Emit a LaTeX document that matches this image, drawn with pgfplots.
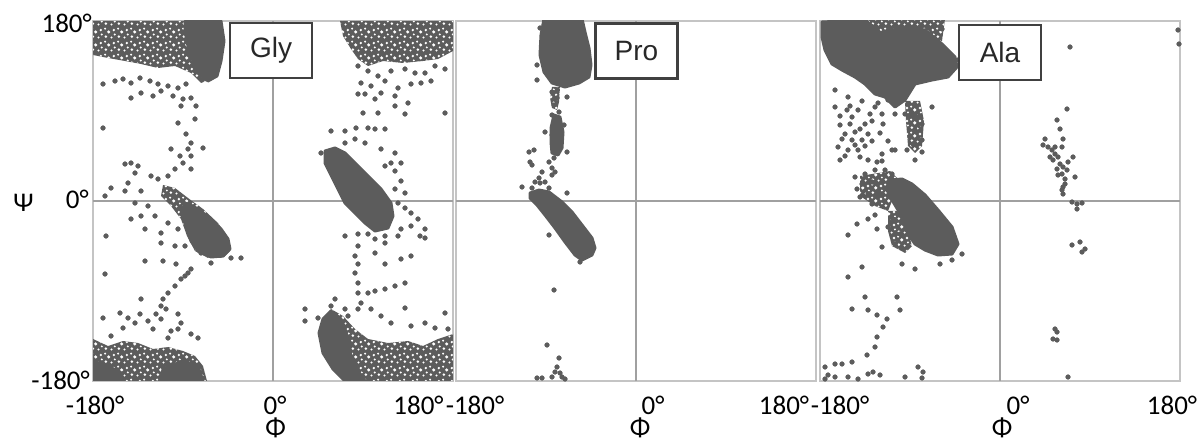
\documentclass[border=0pt]{standalone}
\usepackage{fontspec}
\setmainfont{Carlito}
\newfontfamily\arial{Liberation Sans}
\usepackage{pgfplots}
\pgfplotsset{compat=1.18}
\usetikzlibrary{patterns}

\definecolor{dotgray}{RGB}{92,92,92}
\definecolor{framegray}{RGB}{196,196,196}
\definecolor{midgray}{RGB}{160,160,160}
\definecolor{boxgray}{RGB}{64,64,64}
\definecolor{labelgray}{RGB}{40,40,40}

% white gaps laid over the loosely populated regions
\pgfdeclarepatternformonly{speckle}{\pgfqpoint{0bp}{0bp}}{\pgfqpoint{13bp}{13bp}}{\pgfqpoint{13bp}{13bp}}{
  \pgfpathcircle{\pgfqpoint{2bp}{2.5bp}}{1.5bp}
  \pgfpathcircle{\pgfqpoint{8bp}{1.5bp}}{1.2bp}
  \pgfpathcircle{\pgfqpoint{5bp}{7.5bp}}{1.8bp}
  \pgfpathcircle{\pgfqpoint{10.5bp}{9.5bp}}{1.4bp}
  \pgfpathcircle{\pgfqpoint{11.5bp}{4.8bp}}{1.1bp}
  \pgfpathcircle{\pgfqpoint{1.2bp}{11bp}}{1.2bp}
  \pgfusepath{fill}
}

\pgfplotsset{
  rama/.style={
    width=360bp, height=360bp, scale only axis,
    xmin=-180, xmax=180, ymin=-180, ymax=180,
    axis line style={draw=framegray, line width=2bp},
    xtick=\empty, ytick=\empty,
    extra x ticks={0}, extra y ticks={0},
    extra x tick labels={}, extra y tick labels={},
    extra tick style={grid=major, major tick length=0pt,
      major grid style={draw=midgray, line width=1.6bp}},
    clip mode=individual,
    anchor=south west,
  },
  dense/.style={fill=dotgray, draw=dotgray, line width=3bp, line join=round, mark=none},
  loose/.style={fill=dotgray, draw=none, mark=none,
    postaction={pattern=speckle, pattern color=white}},
  dots/.style={only marks, mark=*, mark size=2.4bp,
    mark options={draw=dotgray, fill=dotgray, line width=0.3bp}},
}
\tikzset{
  tag/.style={draw=boxgray, line width=2.5bp, fill=white, minimum width=82bp,
    minimum height=55bp, inner sep=0pt, text=labelgray,
    font=\arial\fontsize{28bp}{30bp}\selectfont},
}

\begin{document}
\begin{tikzpicture}
\useasboundingbox (0,0) rectangle (1202bp,442bp);

% ---------------- Gly ----------------
\begin{axis}[rama, at={(93bp,61bp)}]
\addplot[loose] coordinates {(-180,180) (-52,180) (-50,160) (-55,135) (-62,122) (-72,118) (-82,128) (-98,135) (-115,133) (-132,137) (-148,140) (-165,143) (-180,146)} -- cycle;
\addplot[dense] coordinates {(-88,180) (-52,180) (-49,160) (-52,140) (-56,125) (-65,120) (-74,128) (-80,140) (-85,155) (-88,170)} -- cycle;
\addplot[loose] coordinates {(67,180) (180,180) (180,150) (165,142) (150,140) (130,138) (110,140) (95,135) (85,142) (78,152) (70,165)} -- cycle;
\addplot[loose] coordinates {(-180,-138) (-165,-145) (-150,-140) (-135,-142) (-120,-148) (-105,-146) (-90,-150) (-78,-155) (-70,-165) (-66,-180) (-180,-180)} -- cycle;
\addplot[dense] coordinates {(-180,-160) (-165,-165) (-152,-172) (-150,-180) (-180,-180)} -- cycle;
\addplot[dense] coordinates {(-110,-168) (-90,-160) (-75,-165) (-70,-180) (-112,-180)} -- cycle;
\addplot[loose] coordinates {(58,-108) (70,-115) (82,-128) (95,-138) (115,-142) (135,-140) (150,-145) (165,-138) (180,-133) (180,-180) (72,-180) (60,-168) (50,-152) (46,-132) (50,-118)} -- cycle;
\addplot[dense] coordinates {(58,-110) (68,-118) (74,-135) (78,-155) (85,-170) (92,-180) (72,-180) (60,-168) (50,-152) (46,-132) (50,-118)} -- cycle;
\addplot[loose] coordinates {(-110,16) (-98,13) (-85,3) (-70,-8) (-55,-22) (-45,-38) (-43,-50) (-50,-57) (-65,-57) (-78,-50) (-86,-35) (-92,-18) (-102,-5) (-112,5)} -- cycle;
\addplot[dense] coordinates {(-88,-2) (-75,-8) (-62,-18) (-52,-28) (-45,-38) (-43,-48) (-50,-55) (-62,-56) (-75,-50) (-82,-40) (-87,-25) (-92,-12)} -- cycle;
\addplot[dense] coordinates {(52,50) (62,53) (72,48) (82,38) (95,25) (108,12) (118,-2) (120,-15) (115,-27) (102,-30) (92,-22) (82,-12) (72,-2) (65,12) (57,28) (52,38)} -- cycle;
\addplot[dots] coordinates {
(-170,117) (-158,120) (-150,122) (-142,118) (-133,123) (-123,120) (-115,117) (-105,115) (-95,113) (-87,117)
(-142,103) (-132,108) (-120,105) (-112,110) (-100,105) (-90,102) (-82,103) (-77,95) (-92,95) (-95,78)
(-78,82) (-87,67) (-82,58) (-85,52) (-102,52) (-93,45) (-82,45) (-70,53) (-90,38) (-98,32)
(-82,32) (-105,25) (-115,22) (-122,25) (-142,38) (-135,35) (-148,37) (-138,28) (-145,18) (-162,13)
(-168,5) (-148,10) (-132,10) (-138,-2) (-125,-5) (-132,-15) (-118,-15) (-142,-18) (-105,-22) (-95,-28)
(-112,-32) (-128,-28) (-167,-35) (-112,-42) (-98,-45) (-88,-45) (-128,-60) (-110,-60) (-97,-63) (-82,-68)
(-168,-73) (-88,-75) (-72,-52) (-62,-62) (-42,-57) (-32,-57) (-170,73)
(-85,-72) (-92,-78) (-98,-85) (-105,-92) (-110,-98) (-112,-105) (-107,-108) (-117,-113) (-132,-98) (-133,-113)
(-170,-117) (-153,-112) (-145,-117) (-138,-122) (-125,-120) (-112,-118) (-95,-113) (-92,-122) (-102,-130) (-95,-128)
(-150,-127) (-162,-135) (-120,-128) (-82,-133) (-75,-137) (-105,-137)
(85,135) (95,130) (105,125) (118,130) (132,132) (142,128) (152,128) (162,135) (172,132) (88,118)
(98,115) (112,120) (125,113) (138,117) (148,118) (158,120) (85,107) (92,107) (102,102) (108,108)
(122,105) (135,98) (122,95) (132,87) (105,88) (90,88) (172,88) (58,70) (72,70) (83,73)
(95,73) (102,72) (112,72) (82,62) (92,58) (108,52) (122,48) (72,58) (48,48) (118,38)
(128,38) (112,35) (122,30) (128,20) (132,8) (122,12)
(125,-2) (132,-7) (138,-12) (145,-18) (152,-28) (138,-25) (128,-28) (125,-35) (147,-35) (152,-37)
(112,-35) (102,-38) (95,-33) (85,-33) (72,-35) (85,-45) (82,-55) (85,-63) (82,-72) (85,-82)
(85,-92) (95,-92) (102,-90) (112,-88) (122,-85) (132,-82) (102,-52) (112,-42) (112,-63) (128,-58)
(138,-55) (88,-102) (85,-108) (72,-108) (75,-115) (98,-108) (108,-115) (118,-122) (132,-107) (138,-125)
(152,-122) (162,-127) (172,-112) (175,-128) (32,-108) (32,-120) (45,-117) (58,-105) (62,-98)
};
\node[tag] at (axis cs:-2,150.5) {Gly};
\end{axis}

% ---------------- Pro ----------------
\begin{axis}[rama, at={(456bp,61bp)}]
\addplot[dense] coordinates {(-92,182) (-54,182) (-51,169) (-47,153) (-45,136) (-47,124) (-57,118) (-71,114) (-84,118) (-92,129) (-96,146) (-95,166)} -- cycle;
\addplot[loose] coordinates {(-84,114) (-76,114) (-77,99) (-79,91) (-84,93) (-86,103)} -- cycle;
\addplot[dense] coordinates {(-82,86) (-76,84) (-73,69) (-74,53) (-78,46) (-84,48) (-85,59) (-85,73)} -- cycle;
\addplot[dense] coordinates {(-106,8) (-97,11) (-87,9) (-74,-1) (-64,-11) (-54,-24) (-44,-37) (-41,-47) (-44,-54) (-54,-59) (-61,-54) (-71,-41) (-81,-27) (-91,-14) (-99,-4) (-106,3)} -- cycle;
\addplot[dots] coordinates {
(-99,136) (-99,121) (-96,173) (-69,104) (-91,69) (-72,76) (-69,49) (-107,49) (-102,51) (-106,39)
(-104,36) (-87,39) (-82,43) (-84,33) (-94,29) (-97,23) (-101,19) (-91,19) (-84,26) (-81,29)
(-114,14) (-104,13) (-96,18) (-87,13) (-87,-34) (-69,8) (-56,-61) (-82,-89) (-89,-144) (-77,-157)
(-79,-166) (-81,-171) (-76,-172) (-74,-176) (-84,-176) (-94,-177) (-99,-177) (-71,-178)
(-84,109) (-79,103) (-82,96) (-77,89) (-84,86) (-81,79) (-77,73) (-84,66) (-79,59) (-82,54)
(-76,53) (-81,48)
};
\node[tag] at (axis cs:0.5,150) {Pro};
\end{axis}

% ---------------- Ala ----------------
\begin{axis}[rama, at={(820bp,61bp)}]
\addplot[loose] coordinates {(-135,182) (-55,182) (-58,160) (-98,172) (-118,165)} -- cycle;
\addplot[dense] coordinates {(-178,179) (-135,181) (-118,167) (-98,174) (-75,171) (-58,157) (-45,144) (-43,134) (-52,124) (-68,121) (-85,117) (-95,101) (-105,94) (-115,104) (-125,107) (-135,117) (-145,124) (-158,131) (-168,137) (-175,151) (-178,164)} -- cycle;
\addplot[loose] coordinates {(-95,100) (-80,100) (-76,80) (-78,55) (-85,48) (-92,55) (-94,80)} -- cycle;
\addplot[loose] coordinates {(-140,25) (-110,30) (-100,20) (-108,0) (-112,-10) (-125,-5) (-140,5)} -- cycle;
\addplot[loose] coordinates {(-112,-10) (-100,-10) (-95,-20) (-88,-45) (-95,-52) (-108,-45) (-112,-30)} -- cycle;
\addplot[dense] coordinates {(-108,21) (-98,22) (-88,17) (-75,6) (-62,-9) (-48,-26) (-42,-43) (-48,-53) (-62,-54) (-75,-49) (-85,-43) (-92,-33) (-95,-19) (-102,-9) (-108,1) (-113,11)} -- cycle;
\addplot[dots] coordinates {
(70,154) (67,92) (57,81) (60,72) (45,62) (43,56) (63,62) (73,44) (75,24) (65,17)
(63,7) (72,-1) (77,-3) (82,-2) (77,-8) (72,-44) (80,-41) (82,-51) (85,-48) (55,-128)
(57,-131) (53,-138) (57,-139) (68,-176) (178,171) (179,157)
(48,54) (52,51) (55,47) (58,44) (53,41) (60,37) (63,34) (57,32) (62,27) (67,31)
(68,39) (50,44) (65,22) (58,26) (55,54) (62,54) (63,14) (62,11)
(-165,94) (-153,91) (-142,91) (-150,77) (-160,76) (-155,67) (-145,69) (-135,77) (-130,87) (-125,94)
(-118,87) (-117,77) (-132,67) (-138,61) (-148,61) (-162,54) (-152,51) (-142,51) (-160,41) (-132,41)
(-123,39) (-108,51) (-105,51) (-118,47) (-95,87) (-88,87) (-82,84) (-78,77) (-85,71) (-90,64)
(-87,57) (-78,61) (-93,51) (-78,49) (-85,41) (-68,94) (-108,27) (-115,31) (-125,31) (-135,27)
(-145,24) (-138,17) (-128,19) (-143,12) (-132,7) (-140,4) (-122,7) (-128,-3) (-125,-14) (-132,-18)
(-123,-28) (-143,-23) (-152,-34) (-118,-46) (-105,-43) (-100,-33) (-112,-26) (-107,-18) (-98,-63) (-85,-68)
(-60,-63) (-38,-53) (-48,-59) (-138,-66) (-152,-76) (-135,-96) (-103,-96) (-148,-108) (-132,-109) (-123,-114)
(-113,-118) (-100,-109) (-117,-126) (-123,-136) (-125,-146) (-133,-154) (-148,-161) (-158,-163) (-165,-163) (-175,-166)
(-172,-174) (-165,-176) (-152,-176) (-142,-178) (-132,-173) (-127,-171) (-120,-174) (-95,-176) (-82,-166) (-77,-171)
(-78,-177) (-175,-178)
(-165,111) (-152,104) (-105,87) (-112,101) (-58,172) (-42,141)
(-160,85) (-148,84) (-140,72) (-128,80) (-150,95) (-138,100) (-122,98) (-158,62) (-145,56) (-135,55)
(-128,60) (-120,68) (-112,60) (-155,45) (-140,44) (-118,40)
};
\node[tag] at (axis cs:0,148.5) {Ala};
\end{axis}

% ---------------- tick labels and axis names ----------------
\begin{scope}[font=\fontsize{27bp}{32bp}\selectfont]
\node[anchor=base east, inner sep=0pt] at (92bp,409bp) {180°};
\node[anchor=base east, inner sep=0pt] at (89bp,233bp) {0°};
\node[anchor=base east, inner sep=0pt] at (90bp,52bp) {-180°};
\node[anchor=base, inner sep=0pt] at (23.5bp,230bp) {Ψ};

\node[anchor=base, inner sep=0pt] at (95bp,28bp) {-180°};
\node[anchor=base, inner sep=0pt] at (275bp,28bp) {0°};
\node[anchor=base, inner sep=0pt] at (418.5bp,28bp) {180°};
\node[anchor=base, inner sep=0pt] at (475bp,28bp) {-180°};
\node[anchor=base, inner sep=0pt] at (653bp,28bp) {0°};
\node[anchor=base, inner sep=0pt] at (784bp,28bp) {180°};
\node[anchor=base, inner sep=0pt] at (840bp,28bp) {-180°};
\node[anchor=base, inner sep=0pt] at (1018bp,28bp) {0°};
\node[anchor=base, inner sep=0pt] at (1172bp,28bp) {180°};

\node[anchor=base, inner sep=0pt] at (275.5bp,5.5bp) {Φ};
\node[anchor=base, inner sep=0pt] at (640bp,5.5bp) {Φ};
\node[anchor=base, inner sep=0pt] at (1002bp,5.5bp) {Φ};
\end{scope}
\end{tikzpicture}
\end{document}
